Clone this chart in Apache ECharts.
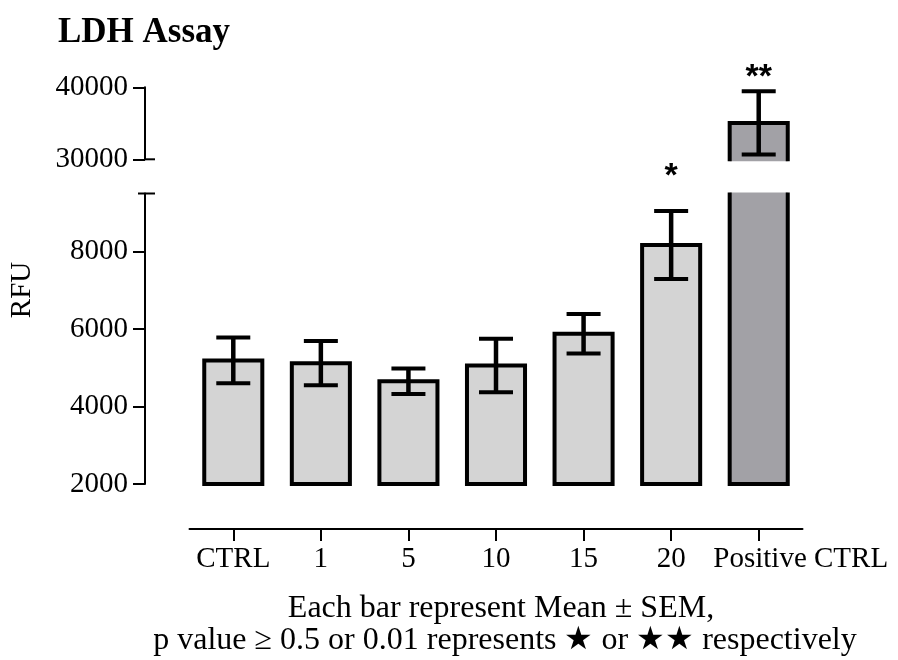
<!DOCTYPE html>
<html>
<head>
<meta charset="utf-8">
<script src="https://cdn.jsdelivr.net/npm/echarts@6/dist/echarts.min.js"></script>
<style>
html,body{margin:0;padding:0;background:#fff;}
#c{width:898px;height:660px;}
</style>
</head>
<body>
<div id="c"></div>
<script>
// ---- data ----
const categories = ['CTRL', '1', '5', '10', '15', '20', 'Positive CTRL'];
const means = [5190, 5120, 4655, 5060, 5880, 8170, 35050];
const sems = [590, 570, 330, 690, 510, 875, 4400];
const starLabels = ['', '', '', '', '', '*', '**'];
const starValues = [null, null, null, null, null, 9930, 41350];
const lowerTicks = [2000, 4000, 6000, 8000];
const upperTicks = [30000, 40000];
const lowerRange = [2000, 9500];
const upperRange = [30000, 40000];

// ---- styles ----
const SERIF = '"Liberation Serif", "Times New Roman", serif';
const FILL = '#d4d4d4';
const FILL_POS = '#a2a1a6';
const BAR_RATIO = 0.663;
const CAP = 34;
const LW = 4;
const AXIS_OFF = 44.5;
const lastIdx = categories.length - 1;

function errorBar(cx, hi, lo) {
  return [
    {type: 'line', shape: {x1: cx, y1: hi, x2: cx, y2: lo}, style: {stroke: '#000', lineWidth: 4.5}},
    {type: 'line', shape: {x1: cx - CAP / 2, y1: hi, x2: cx + CAP / 2, y2: hi}, style: {stroke: '#000', lineWidth: 4}},
    {type: 'line', shape: {x1: cx - CAP / 2, y1: lo, x2: cx + CAP / 2, y2: lo}, style: {stroke: '#000', lineWidth: 4}}
  ];
}
function starText(cx, y, txt) {
  return {type: 'text', x: cx, y: y, style: {text: txt, font: 'bold 34px "Liberation Sans", Arial, sans-serif', fill: '#000', align: 'center', verticalAlign: 'middle'}};
}

function renderLower(params, api) {
  const i = api.value(0), m = api.value(1), s = api.value(2);
  const cs = params.coordSys;
  const top = cs.y, bot = cs.y + cs.height;
  const children = [];
  if (i === 0) {
    const ax = cs.x - AXIS_OFF;
    children.push({type: 'line', shape: {x1: ax - 7, y1: top, x2: ax + 10, y2: top}, style: {stroke: '#000', lineWidth: 2}});
  }
  const w = api.size([1, 0])[0] * BAR_RATIO;
  const p = api.coord([i, m]);
  const cx = p[0];
  const base = api.coord([i, lowerRange[0]])[1];
  const open = p[1] < top;
  const yT = open ? top - 1 : p[1];
  const x0 = cx - w / 2, x1 = cx + w / 2;
  const fill = i === lastIdx ? FILL_POS : FILL;
  children.push({type: 'rect', shape: {x: x0, y: yT, width: w, height: base - yT}, style: {fill: fill, stroke: null}});
  if (open) {
    children.push({type: 'polyline', shape: {points: [[x0, yT], [x0, base], [x1, base], [x1, yT]]}, style: {stroke: '#000', lineWidth: LW, fill: null, lineJoin: 'miter'}});
  } else {
    children.push({type: 'rect', shape: {x: x0, y: yT, width: w, height: base - yT}, style: {fill: null, stroke: '#000', lineWidth: LW, lineJoin: 'miter'}});
    const hi = api.coord([i, m + s])[1], lo = api.coord([i, m - s])[1];
    errorBar(cx, hi, lo).forEach(e => children.push(e));
    if (starLabels[i] && starValues[i] != null) {
      children.push(starText(cx, api.coord([i, starValues[i]])[1], starLabels[i]));
    }
  }
  return {type: 'group', children: children};
}

function renderUpper(params, api) {
  const i = api.value(0), m = api.value(1), s = api.value(2);
  const cs = params.coordSys;
  const top = cs.y, bot = cs.y + cs.height;
  const children = [];
  if (i === 0) {
    const ax = cs.x - AXIS_OFF;
    children.push({type: 'line', shape: {x1: ax, y1: bot, x2: ax + 10, y2: bot}, style: {stroke: '#000', lineWidth: 2}});
  }
  if (m <= upperRange[0]) return {type: 'group', children: children};
  const w = api.size([1, 0])[0] * BAR_RATIO;
  const p = api.coord([i, m]);
  const cx = p[0];
  const base = bot + 2;
  const x0 = cx - w / 2, x1 = cx + w / 2;
  const fill = i === lastIdx ? FILL_POS : FILL;
  children.push({type: 'rect', shape: {x: x0, y: p[1], width: w, height: base - p[1]}, style: {fill: fill, stroke: null}});
  children.push({type: 'polyline', shape: {points: [[x0, base], [x0, p[1]], [x1, p[1]], [x1, base]]}, style: {stroke: '#000', lineWidth: LW, fill: null, lineJoin: 'miter'}});
  const hi = api.coord([i, m + s])[1], lo = api.coord([i, m - s])[1];
  errorBar(cx, hi, lo).forEach(e => children.push(e));
  if (starLabels[i] && starValues[i] != null) {
    children.push(starText(cx, api.coord([i, starValues[i]])[1], starLabels[i]));
  }
  return {type: 'group', children: children};
}

const seriesData = categories.map((c, i) => [i, means[i], sems[i]]);

const axisLineStyle = {show: true, lineStyle: {color: '#000', width: 2}};
const tickStyle = {show: true, length: 12, lineStyle: {color: '#000', width: 2}};
const labelStyle = {color: '#000', fontFamily: SERIF, fontSize: 29};
const plain = v => String(v);

const chart = echarts.init(document.getElementById('c'), null, {renderer: 'canvas'});
chart.setOption({
  animation: false,
  backgroundColor: '#fff',
  title: {
    text: 'LDH Assay', left: 58, top: 15, padding: 0,
    textStyle: {fontFamily: SERIF, fontWeight: 'bold', fontSize: 35, color: '#000'}
  },
  grid: [
    {left: 189.5, right: 95.5, top: 87.3, height: 72},
    {left: 189.5, right: 95.5, top: 193.5, height: 290.5}
  ],
  xAxis: [
    {gridIndex: 0, type: 'category', data: categories, show: false},
    {
      gridIndex: 1, type: 'category', data: categories.map((c, i) => i === lastIdx ? {value: c, textStyle: {padding: [0, 0, 0, 84]}} : c),
      offset: 45,
      axisLine: axisLineStyle,
      axisTick: {show: true, length: 12, alignWithLabel: true, lineStyle: {color: '#000', width: 2}},
      axisLabel: Object.assign({margin: 16, interval: 0}, labelStyle)
    }
  ],
  yAxis: [
    {
      gridIndex: 0, type: 'value', min: upperRange[0], max: upperRange[1], interval: 10000,
      offset: AXIS_OFF, axisLine: axisLineStyle,
      axisTick: Object.assign({customValues: upperTicks}, tickStyle),
      axisLabel: Object.assign({margin: 17, customValues: upperTicks, formatter: plain}, labelStyle),
      splitLine: {show: false}
    },
    {
      gridIndex: 1, type: 'value', min: lowerRange[0], max: lowerRange[1], interval: 2000,
      offset: AXIS_OFF, axisLine: axisLineStyle,
      axisTick: Object.assign({customValues: lowerTicks}, tickStyle),
      axisLabel: Object.assign({margin: 17, customValues: lowerTicks, formatter: plain}, labelStyle),
      splitLine: {show: false}
    }
  ],
  graphic: [
    {type: 'text', x: 22, y: 290, rotation: Math.PI / 2,
     style: {text: 'RFU', font: '29px ' + SERIF, fill: '#000', align: 'center', verticalAlign: 'middle'}},
    {type: 'text', x: 501, y: 609,
     style: {text: 'Each bar represent Mean ± SEM,', font: '32px ' + SERIF, fill: '#000', align: 'center', verticalAlign: 'middle'}},
    {type: 'text', x: 505, y: 641,
     style: {text: 'p value ≥ 0.5 or 0.01 represents ★ or ★★ respectively', font: '32px ' + SERIF, fill: '#000', align: 'center', verticalAlign: 'middle'}}
  ],
  series: [
    {type: 'custom', xAxisIndex: 0, yAxisIndex: 0, clip: false, renderItem: renderUpper, data: seriesData, encode: {x: 0, y: 1}, silent: true},
    {type: 'custom', xAxisIndex: 1, yAxisIndex: 1, clip: false, renderItem: renderLower, data: seriesData, encode: {x: 0, y: 1}, silent: true}
  ]
});
</script>
</body>
</html>
